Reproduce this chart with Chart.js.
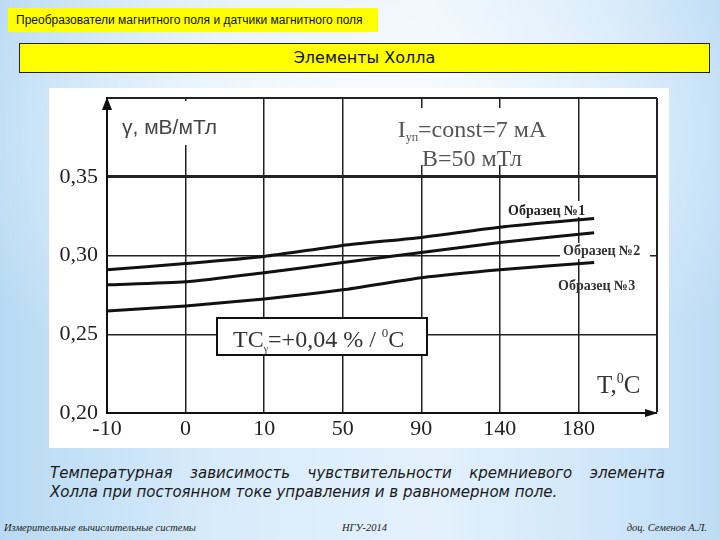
<!DOCTYPE html>
<html>
<head>
<meta charset="utf-8">
<script src="https://cdn.jsdelivr.net/npm/chart.js@4.4.1/dist/chart.umd.min.js"></script>
<style>
  html, body { margin: 0; padding: 0; }
  body {
    width: 720px; height: 540px; position: relative; overflow: hidden;
    background:
      radial-gradient(ellipse 60% 55% at 50% 25%, rgba(255,255,255,0.85), rgba(255,255,255,0) 100%),
      linear-gradient(90deg, #b8daf4 0%, #d8ebfa 30%, #e4f1fc 60%, #cfe6f9 85%, #bedcf5 100%);
    font-family: "DejaVu Sans", sans-serif;
  }
  .top {
    position: absolute; left: 8px; top: 8px; width: 370px; height: 24px;
    background: #ffff00; font-family: "Liberation Sans", sans-serif; font-size: 12px;
    line-height: 24px; padding-left: 8px; white-space: nowrap;
    box-sizing: border-box; color: #111;
  }
  .title {
    position: absolute; left: 19px; top: 43px; width: 691px; height: 30px;
    background: #ffff00; border: 1px solid #222; box-sizing: border-box;
    font-size: 16px; line-height: 28px; text-align: center; color: #111;
  }
  .plot {
    position: absolute; left: 49px; top: 88px; width: 620px; height: 360px; background: #fff;
  }
  .cap {
    position: absolute; left: 50px; width: 615px; font-style: italic;
    font-size: 15px; color: #1a1a1a; white-space: nowrap;
  }
  .cap1 { top: 464px; text-align: justify; text-align-last: justify; white-space: normal; }
  .cap2 { top: 483px; }
  .foot {
    position: absolute; top: 522px; font-family: "Liberation Serif", serif;
    font-style: italic; font-size: 10.5px; color: #222;
  }
</style>
</head>
<body>
<div class="top">Преобразователи магнитного поля и датчики магнитного поля</div>
<div class="title">Элементы Холла</div>
<div class="plot"><canvas id="grafik" width="620" height="360"></canvas></div>
<div class="cap cap1">Температурная зависимость чувствительности кремниевого элемента</div>
<div class="cap cap2">Холла при постоянном токе управления и в равномерном поле.</div>
<div class="foot" style="left:4px">Измерительные вычислительные системы</div>
<div class="foot" style="left:342px">НГУ-2014</div>
<div class="foot" style="right:13px">доц. Семенов А.Л.</div>

<script>
// temperature axis is not linear: labels sit on equal steps
const tempLabels = ["-10", "0", "10", "50", "90", "140", "180", ""];
// positions along the temperature axis (step index)
const xPos = [0, 1, 2, 3, 4, 5, 6.2];
const sample1 = [0.291, 0.2949, 0.2994, 0.3064, 0.3115, 0.318, 0.3235];
const sample2 = [0.2814, 0.2833, 0.2891, 0.2955, 0.3019, 0.3083, 0.3145];
const sample3 = [0.2647, 0.268, 0.2724, 0.2782, 0.2859, 0.291, 0.2955];
const yTicks = [0.2, 0.25, 0.3, 0.35, 0.4];
const yTickLabels = ["0,20", "0,25", "0,30", "0,35", ""];

const OX = 49, OY = 88; // plot box offset on the slide

function pts(vals) {
  return vals.map((v, i) => ({ x: xPos[i], y: v }));
}

function line(vals) {
  return {
    data: pts(vals),
    borderColor: "#111",
    borderWidth: 3,
    pointRadius: 0,
    tension: 0.2,
    fill: false,
  };
}

const decor = {
  id: "decor",
  afterDatasetsDraw(chart) {
    const ctx = chart.ctx;
    const a = (x, y) => [x - OX, y - OY];
    ctx.save();
    // white patches behind labels (they break the grid)
    ctx.fillStyle = "#fff";
    [[115, 101, 120, 44], [395, 108, 160, 57], [505, 201, 86, 16], [560, 243, 90, 16]].forEach((r) => {
      const [x, y] = a(r[0], r[1]);
      ctx.fillRect(x, y, r[2], r[3]);
    });

    // TC box
    let [bx, by] = a(217, 318);
    ctx.fillRect(bx, by, 210, 37);
    ctx.lineWidth = 2;
    ctx.strokeStyle = "#111";
    ctx.strokeRect(bx, by, 210, 37);

    ctx.textBaseline = "alphabetic";
    ctx.textAlign = "left";

    // write a run of text parts [text, font, dy]
    function runs(x, y, parts, color) {
      ctx.fillStyle = color;
      parts.forEach((p) => {
        ctx.font = p[1];
        ctx.fillText(p[0], x, y + (p[2] || 0));
        x += ctx.measureText(p[0]).width;
      });
    }
    function runsW(parts) {
      let w = 0;
      parts.forEach((p) => { ctx.font = p[1]; w += ctx.measureText(p[0]).width; });
      return w;
    }

    const serif = '"Liberation Serif", serif';
    let [tx, ty] = a(233, 347);
    runs(tx, ty, [["TC", "24px " + serif], ["γ", "10px " + serif, 5], ["=+0,04 % / ", "24px " + serif],
      ["0", "13px " + serif, -10], ["C", "24px " + serif]], "#333");

    [tx, ty] = a(597, 393);
    runs(tx, ty, [["T,", "25px " + serif], ["0", "14px " + serif, -10], ["C", "25px " + serif]], "#333");

    // conditions
    const cond1 = [["I", "24px " + serif], ["уп", "12px " + serif, 4], ["=const=7 мА", "24px " + serif]];
    [tx, ty] = a(472, 137);
    runs(tx - runsW(cond1) / 2, ty, cond1, "#555");
    const cond2 = [["B=50 мТл", "24px " + serif]];
    [tx, ty] = a(472, 166);
    runs(tx - runsW(cond2) / 2, ty, cond2, "#555");

    // axis title
    [tx, ty] = a(122, 134);
    runs(tx, ty, [["γ, мВ/мТл", '21px "Liberation Sans", sans-serif']], "#444");

    // sample labels
    const bold = "bold 14px " + serif;
    [tx, ty] = a(508, 215); runs(tx, ty, [["Образец №1", bold]], "#222");
    [tx, ty] = a(563, 255); runs(tx, ty, [["Образец №2", bold]], "#333");
    [tx, ty] = a(558, 290); runs(tx, ty, [["Образец №3", bold]], "#333");
    ctx.restore();
  },
  afterDraw(chart) {
    const ctx = chart.ctx;
    const c = chart.chartArea;
    ctx.save();
    ctx.fillStyle = "#111";
    // y arrow
    ctx.beginPath();
    ctx.moveTo(c.left, c.top - 1);
    ctx.lineTo(c.left - 5, c.top + 12);
    ctx.lineTo(c.left + 5, c.top + 12);
    ctx.closePath();
    ctx.fill();
    // x arrow
    ctx.beginPath();
    ctx.moveTo(c.right + 1, c.bottom);
    ctx.lineTo(c.right - 12, c.bottom - 4);
    ctx.lineTo(c.right - 12, c.bottom + 4);
    ctx.closePath();
    ctx.fill();
    ctx.restore();
  },
};

new Chart(document.getElementById("grafik"), {
  type: "line",
  data: { datasets: [line(sample1), line(sample2), line(sample3)] },
  plugins: [decor],
  options: {
    responsive: false,
    animation: false,
    events: [],
    layout: { padding: { top: 10, right: 12, left: 0, bottom: 0 } },
    plugins: { legend: { display: false }, tooltip: { enabled: false } },
    scales: {
      x: {
        type: "linear",
        min: 0,
        max: 7,
        afterFit: (s) => { s.height = 35; s.paddingLeft = 0; s.paddingRight = 0; },
        afterBuildTicks: (s) => { s.ticks = tempLabels.map((t, i) => ({ value: i })); },
        ticks: {
          callback: (v) => tempLabels[v],
          font: { family: "Liberation Serif", size: 22 },
          color: "#222",
          padding: 3,
          maxRotation: 0,
          autoSkip: false,
        },
        grid: {
          drawTicks: false,
          color: "#222",
          lineWidth: (ctx) => (ctx.index === 0 ? 0 : ctx.index === 7 ? 2 : 1.5),
        },
        border: { display: true, color: "#111", width: 2 },
      },
      y: {
        type: "linear",
        min: 0.2,
        max: 0.4,
        afterFit: (s) => { s.width = 58; s.paddingTop = 0; s.paddingBottom = 0; },
        afterBuildTicks: (s) => { s.ticks = yTicks.map((v) => ({ value: v })); },
        ticks: {
          callback: (v, i) => yTickLabels[i],
          font: { family: "Liberation Serif", size: 22 },
          color: "#222",
          padding: 9,
        },
        grid: {
          drawTicks: false,
          color: "#222",
          lineWidth: (ctx) => {
            const v = Math.round(ctx.tick.value * 100);
            if (v === 20) return 0;
            if (v === 35) return 3;
            if (v === 40) return 2;
            return 1.5;
          },
        },
        border: { display: true, color: "#111", width: 2 },
      },
    },
  },
});
</script>
</body>
</html>
